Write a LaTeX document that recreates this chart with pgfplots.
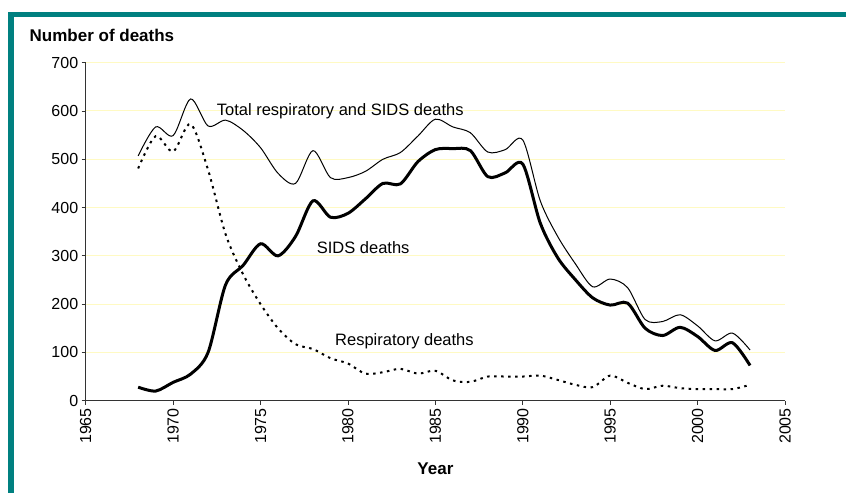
\documentclass[border=0pt]{standalone}
\usepackage{fontspec}
\setmainfont{Liberation Sans}
\usepackage{pgfplots}
\usepackage{pgfplotstable}
\pgfplotsset{compat=1.18}
\definecolor{frameteal}{RGB}{0,128,128}
\definecolor{gridyel}{RGB}{255,250,195}

\pgfplotstableread{
year sids resp total
1968 28 481 507
1969 20 548 567
1970 38 516 549
1971 55 573 625
1972 100 478 569
1973 240 345 581
1974 280 262 560
1975 325 200 524
1976 300 150 471
1977 340 117 450
1978 414 107 518
1979 380 88 462
1980 388 77 462
1981 418 56 475
1982 450 59 500
1983 449 66 514
1984 495 56 548
1985 520 62 583
1986 522 42 567
1987 518 39 555
1988 464 50 515
1989 472 50 520
1990 490 50 540
1991 368 52 414
1992 296 43 340
1993 251 33 284
1994 213 28 236
1995 198 52 252
1996 202 37 234
1997 150 24 168
1998 135 31 164
1999 152 26 178
2000 133 24 155
2001 104 24 124
2002 120 24 140
2003 73 33 105
}\deaths

\begin{document}
\begin{tikzpicture}[x=1pt,y=1pt]
\useasboundingbox (0,0) rectangle (846,493);
\fill[frameteal] (8.3,0) rectangle (14,481.3);
\fill[frameteal] (8.3,476.3) rectangle (846,481.3);
\node[anchor=base west, inner sep=0pt, font=\fontsize{17}{20}\selectfont\bfseries] at (29.5,451.3) {Number of deaths};
\node[anchor=base, inner sep=0pt, font=\fontsize{17}{20}\selectfont\bfseries] at (435.4,19) {Year};
\begin{axis}[
  at={(85.7pt,92.3pt)}, anchor=south west,
  scale only axis, width=699.3pt, height=338pt,
  xmin=1965, xmax=2005, ymin=0, ymax=700,
  axis x line*=bottom, axis y line*=left,
  axis line style={black!80, line width=0.9pt},
  xtick={1965,1970,...,2005}, ytick={0,100,...,700},
  tick align=outside, major tick length=4pt,
  tick style={black!80, line width=0.8pt},
  ymajorgrids, major grid style={gridyel, line width=1pt},
  /pgf/number format/1000 sep={},
  /pgf/number format/assume math mode=true,
  tick label style={font=\fontsize{16}{19}\selectfont},
  x tick label style={rotate=90, anchor=east},
  clip=false,
]
\addplot[black, line width=1pt, smooth, tension=0.5] table[x=year, y=total] {\deaths};
\addplot[black, line width=3pt, smooth, tension=0.5] table[x=year, y=sids] {\deaths};
\addplot[black, line width=2pt, dash pattern=on 2.5pt off 4.5pt, smooth, tension=0.5] table[x=year, y=resp] {\deaths};
\node[anchor=base west, inner sep=0pt, font=\fontsize{16.5}{19}\selectfont] at (axis cs:1972.49,591.6) {Total respiratory and SIDS deaths};
\node[anchor=base west, inner sep=0pt, font=\fontsize{16.5}{19}\selectfont] at (axis cs:1978.21,305.2) {SIDS deaths};
\node[anchor=base west, inner sep=0pt, font=\fontsize{16.5}{19}\selectfont] at (axis cs:1979.26,115.3) {Respiratory deaths};
\end{axis}
\end{tikzpicture}
\end{document}
